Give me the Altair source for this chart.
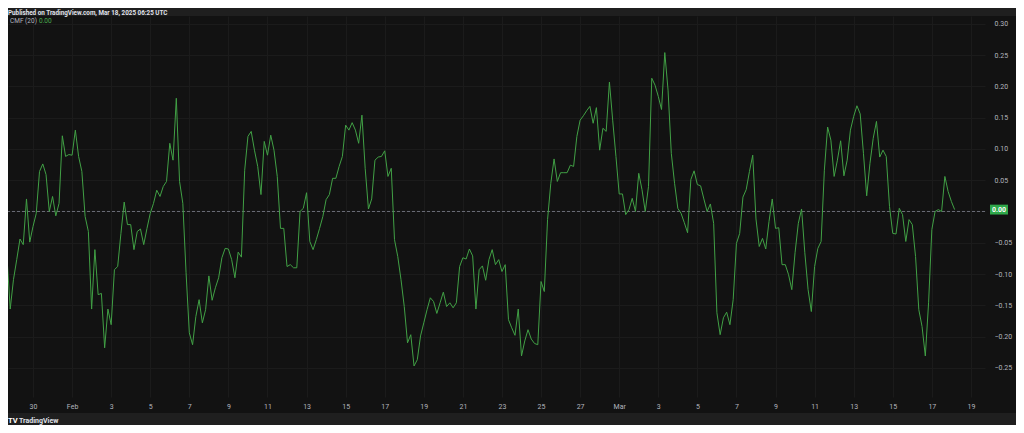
import altair as alt
import pandas as pd

# ---- data (CMF(20), 4h candles) ----
cmf = [
    -0.072, -0.156, -0.109, -0.077, -0.044, -0.053, 0.020, -0.049, -0.024, -0.003,
    0.064, 0.076, 0.059, 0.000, 0.024, -0.007, 0.013, 0.121, 0.088, 0.091,
    0.090, 0.130, 0.088, 0.064, -0.008, -0.032, -0.156, -0.061, -0.133, -0.131,
    -0.218, -0.156, -0.181, -0.093, -0.088, -0.035, 0.015, -0.021, -0.021, -0.061,
    -0.032, -0.028, -0.053, -0.027, -0.003, 0.013, 0.034, 0.024, 0.040, 0.048,
    0.109, 0.082, 0.181, 0.048, 0.013, -0.098, -0.194, -0.213, -0.168, -0.141,
    -0.178, -0.157, -0.103, -0.142, -0.122, -0.106, -0.074, -0.059, -0.060, -0.077,
    -0.106, -0.065, -0.073, 0.066, 0.120,
    0.128, 0.098, 0.072, 0.027, 0.112, 0.090, 0.122, 0.098, 0.056, -0.027,
    -0.027, -0.088, -0.085, -0.090, -0.090, 0.000, 0.005, 0.030, -0.048, -0.061,
    -0.045, -0.027, -0.008, 0.019, 0.027, 0.053, 0.053, 0.072, 0.088, 0.138,
    0.130, 0.142, 0.130, 0.109, 0.154, 0.069, 0.004, 0.020, 0.082, 0.087,
    0.088, 0.097, 0.056, 0.069, -0.045, -0.072, -0.109, -0.152, -0.210, -0.197,
    -0.247, -0.237, -0.199, -0.178, -0.157, -0.138, -0.144, -0.163, -0.146, -0.129,
    -0.152, -0.146, -0.154, -0.146, -0.088, -0.074, -0.076, -0.060, -0.071, -0.156,
    -0.093, -0.087, -0.110, -0.077, -0.061, -0.085, -0.077, -0.096, -0.085, -0.173,
    -0.186, -0.198, -0.156, -0.231, -0.207, -0.189, -0.204, -0.211, -0.213, -0.112,
    -0.128, -0.013, 0.045, 0.084, 0.048, 0.062, 0.062, 0.062, 0.074, 0.072,
    0.120, 0.146, 0.153, 0.161, 0.168, 0.141, 0.166, 0.098, 0.133, 0.128,
    0.207, 0.146, 0.088, 0.028, 0.028, -0.005, 0.003, 0.021, 0.000, 0.061,
    0.035, 0.000, 0.040, 0.213, 0.202, 0.184, 0.163, 0.254, 0.194, 0.093,
    0.045, 0.005, -0.003, -0.018, -0.034, 0.051, 0.065, 0.043, 0.041, 0.020,
    0.000, 0.012, -0.019, -0.162, -0.197, -0.170, -0.161, -0.181, -0.141, -0.051,
    -0.035, 0.023, 0.035, 0.064, 0.090,
    -0.012, -0.056, -0.043, -0.060, -0.016, 0.020, -0.027, -0.026, -0.085, -0.085,
    -0.101, -0.125, -0.066, -0.019, 0.004, -0.066, -0.125, -0.160, -0.088, -0.059,
    -0.048, 0.066, 0.135, 0.114, 0.056, 0.082, 0.113, 0.057, 0.082, 0.130,
    0.152, 0.169, 0.156, 0.093, 0.025, 0.077, 0.117, 0.144, 0.087, 0.098,
    0.088, 0.008, -0.035, -0.036, 0.005, -0.005, -0.048, -0.013, -0.021, -0.072,
    -0.157, -0.184, -0.231, -0.146, -0.029, 0.000, 0.003, 0.000, 0.056, 0.032,
    0.016, 0.003,
]
start_time = "2025-01-28 16:00"
candle_step = "4h"

y_ticks = [-0.25, -0.20, -0.15, -0.10, -0.05, 0.00, 0.05, 0.10, 0.15, 0.20, 0.25, 0.30]
x_tick_days = [(1, 30)] + [(2, d) for d in range(1, 28, 2)] + [(3, d) for d in range(1, 20, 2)]

title_text = "Published on TradingView.com, Mar 18, 2025 06:25 UTC"
indicator_name = "CMF (20)"
brand_text = "TradingView"

# ---- styling ----
PANEL = "#121212"
OUTER = "#1f1f1f"
GRID = "#1b1b1b"
LABEL = "#b2b5be"
GREEN = "#41a045"
BOX_GREEN = "#2fa84a"
FONT = "Roboto"

W, H = 977, 381

times = pd.date_range(start_time, periods=len(cmf), freq=candle_step).strftime("%Y-%m-%dT%H:%M:%SZ")
df = pd.DataFrame({"t": list(times), "cmf": cmf})
last_val = cmf[-1]
last_label = f"{last_val:.2f}"
one = pd.DataFrame({"k": [0]})

x_scale = alt.Scale(
    type="utc",
    domain=[
        alt.DateTime(year=2025, month=1, date=28, hours=17, minutes=17, utc=True),
        alt.DateTime(year=2025, month=3, date=19, hours=17, minutes=18, utc=True),
    ],
)
y_scale = alt.Scale(domain=[-0.2966, 0.3125], nice=False, zero=False)

x_axis = alt.Axis(
    values=[alt.DateTime(year=2025, month=m, date=d, utc=True) for m, d in x_tick_days],
    labelExpr="utcdate(datum.value) == 1 ? utcFormat(datum.value, '%b') : utcFormat(datum.value, '%-d')",
    grid=True, gridColor=GRID, gridWidth=1,
    ticks=False, domain=False, title=None,
    labelColor=LABEL, labelFont=FONT, labelFontSize=7, labelPadding=5,
    labelFlush=False, labelOverlap=False,
)
# the 0.00 level is shown by the green last-value box instead of a plain label
y_axis = alt.Axis(
    orient="right", values=y_ticks, format=".2f",
    labelExpr="abs(datum.value) < 1e-9 ? '' : datum.label",
    grid=True, gridColor=GRID, gridWidth=1,
    ticks=False, domain=False, title=None,
    labelColor=LABEL, labelFont=FONT, labelFontSize=7, labelPadding=9,
    labelAlign="left", labelBaseline="middle", labelFlush=False, labelOverlap=False,
)

line = alt.Chart(df).mark_line(color=GREEN, strokeWidth=1, clip=True).encode(
    x=alt.X("t:T", scale=x_scale, axis=x_axis),
    y=alt.Y("cmf:Q", scale=y_scale, axis=y_axis),
)

zero_rule = alt.Chart(one).mark_rule(color="#6b6e78", strokeDash=[3, 2], strokeWidth=1).encode(
    y=alt.Y(datum=0, type="quantitative", scale=y_scale, axis=y_axis)
)

top_band = alt.Chart(one).mark_rect(color=OUTER).encode(
    x=alt.value(-10), x2=alt.value(1020), y=alt.value(-12), y2=alt.value(0)
)
bottom_band = alt.Chart(one).mark_rect(color=OUTER).encode(
    x=alt.value(-10), x2=alt.value(1020), y=alt.value(397), y2=alt.value(420)
)

box = alt.Chart(one).mark_point(
    shape="M-1,-0.55L1,-0.55L1,0.55L-1,0.55Z", filled=True, size=18 * 18,
    color=BOX_GREEN, opacity=1, strokeWidth=0,
).encode(x=alt.value(991), y=alt.Y(datum=last_val, type="quantitative", scale=y_scale, axis=y_axis))

box_text = alt.Chart(one).mark_text(
    text=last_label, color="#ffffff", font=FONT, fontSize=7, fontWeight="bold",
    align="center", baseline="middle",
).encode(x=alt.value(991), y=alt.Y(datum=last_val, type="quantitative", scale=y_scale, axis=y_axis))

legend_name = alt.Chart(one).mark_text(
    text=indicator_name, color=LABEL, font=FONT, fontSize=6.5, align="left", baseline="middle"
).encode(x=alt.value(2), y=alt.value(5))
legend_val = alt.Chart(one).mark_text(
    text=last_label, color="#4caf50", font=FONT, fontSize=6.5, align="left", baseline="middle"
).encode(x=alt.value(31), y=alt.value(5))

title = alt.Chart(one).mark_text(
    text=title_text, color="#e0e3eb", font=FONT, fontSize=6.3, fontWeight="bold",
    align="left", baseline="alphabetic",
).encode(x=alt.value(0), y=alt.value(-1.5))

logo = alt.Chart(one).mark_text(
    text="TV", color="#ffffff", font=FONT, fontSize=7.5, fontWeight="bold",
    align="left", baseline="alphabetic",
).encode(x=alt.value(0), y=alt.value(407))
brand = alt.Chart(one).mark_text(
    text=brand_text, color="#e0e3eb", font=FONT, fontSize=7, fontWeight="bold",
    align="left", baseline="alphabetic",
).encode(x=alt.value(11), y=alt.value(407))

chart = alt.layer(
    top_band, bottom_band, zero_rule, line, box, box_text,
    legend_name, legend_val, title, logo, brand,
).properties(
    width=W, height=H,
    background=PANEL,
    autosize=alt.AutoSizeParams(type="none"),
    padding={"left": 0, "top": 8, "right": 31, "bottom": 28},
).configure_view(stroke=None)

chart.save("out.html", embed_options={"renderer": "svg", "actions": False})
